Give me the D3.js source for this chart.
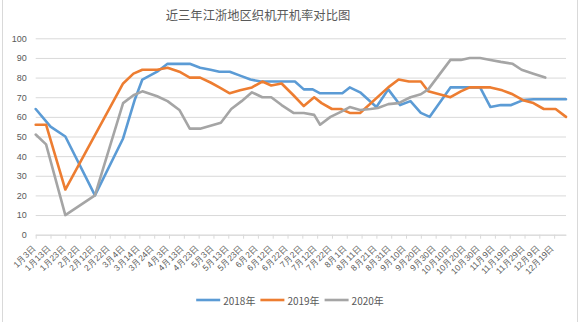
<!DOCTYPE html>
<html>
<head>
<meta charset="utf-8">
<script src="https://cdn.jsdelivr.net/npm/d3@7"></script>
<style>
  html, body { margin: 0; padding: 0; background: #fff; }
  svg { display: block; font-family: "Noto Sans CJK SC", "Noto Sans", sans-serif; }
</style>
</head>
<body>
<svg id="chart" width="587" height="322"></svg>
<script>
// Loom operating rate in Jiangsu/Zhejiang, three years compared (%)
const chartTitle = "近三年江浙地区织机开机率对比图";
const seriesNames = ["2018年", "2019年", "2020年"];
const seriesColors = ["#5B9BD5", "#ED7D31", "#A5A5A5"];

const dates2018 = ["01-03","01-13","01-23","02-12","03-03","03-11","03-16","03-26","04-02","04-17","04-24","05-01","05-07","05-14","05-21","05-28","06-04","06-27","07-03","07-09","07-14","07-29","08-03","08-10","08-21","08-29","09-06","09-13","09-20","09-26","10-10","10-30","11-06","11-13","11-20","11-28","12-05","12-27"];
const values2018 = [64,55,50,20,49,69,79,83,87,87,85,84,83,83,81,79,78,78,74,74,72,72,75,72.5,65,74,66,68,62,60,75,75,65,66,66,68.5,69,69];

const dates2019 = ["01-03","01-10","01-23","03-03","03-10","03-16","03-26","04-02","04-10","04-17","04-24","05-01","05-07","05-14","05-21","05-29","06-05","06-11","06-18","06-26","07-03","07-10","07-15","07-22","07-28","08-03","08-10","08-29","09-05","09-12","09-20","09-25","10-10","10-17","10-23","11-06","11-14","11-21","11-28","12-05","12-12","12-20","12-27"];
const values2019 = [56,56,23,77,82,84,84,85,83,80,80,77.5,75,72,73.5,75,78,76,77,71,65.5,70,67,64,64,62,62,75,79,78,78,73,70,73,75,75,73.5,71.5,68.5,67,64,64,60];

const dates2020 = ["01-03","01-10","01-23","02-12","03-03","03-10","03-16","03-26","04-02","04-10","04-17","04-24","05-01","05-08","05-15","05-22","05-29","06-05","06-11","06-18","06-26","07-03","07-10","07-14","07-21","07-28","08-03","08-10","08-17","08-22","08-29","09-05","09-13","09-20","09-25","10-10","10-17","10-23","10-30","11-06","11-13","11-21","11-27","12-05","12-13"];
const values2020 = [51,46,10,20,67,71,73,70.5,68,63.5,54,54,55.5,57,64,68,72.5,70,70,66,62,62,61,56,60,62.5,65,63.5,64,64.5,66.5,67,70,71.5,74,89,89,90,90,89,88,87,84,82,80];

const xTickLabels = ["1月3日","1月13日","1月23日","2月2日","2月12日","2月22日","3月4日","3月14日","3月24日","4月3日","4月13日","4月23日","5月3日","5月13日","5月23日","6月2日","6月12日","6月22日","7月2日","7月12日","7月22日","8月1日","8月11日","8月21日","8月31日","9月10日","9月20日","9月30日","10月10日","10月20日","10月30日","11月9日","11月19日","11月29日","12月9日","12月19日"];
const yTickValues = [0,10,20,30,40,50,60,70,80,90,100];
const axisStart = "01-03";
const axisEnd = "12-27";

// All three years share one calendar axis (a common non-leap reference year)
const refYear = 2018;
function parseMD(s) {
  const [m, d] = s.split("-").map(Number);
  return new Date(refYear, m - 1, d);
}
function parseLabel(s) {
  const m = s.match(/(\d+)月(\d+)日/);
  return new Date(refYear, +m[1] - 1, +m[2]);
}

const series = [
  { name: seriesNames[0], color: seriesColors[0], points: dates2018.map((d, i) => ({ date: parseMD(d), value: values2018[i] })) },
  { name: seriesNames[1], color: seriesColors[1], points: dates2019.map((d, i) => ({ date: parseMD(d), value: values2019[i] })) },
  { name: seriesNames[2], color: seriesColors[2], points: dates2020.map((d, i) => ({ date: parseMD(d), value: values2020[i] })) }
];

const svg = d3.select("#chart");
const W = 587, H = 322;
const plot = { left: 35.7, right: 566, top: 38.3, bottom: 234.7 };
const textColor = "#595959";
const gridColor = "#D9D9D9";

// chart frame edges
svg.append("line").attr("x1", 2.5).attr("x2", 2.5).attr("y1", 0).attr("y2", H)
  .attr("stroke", gridColor).attr("stroke-width", 1);
svg.append("line").attr("x1", 577.5).attr("x2", 577.5).attr("y1", 0).attr("y2", H)
  .attr("stroke", gridColor).attr("stroke-width", 1);

const x = d3.scaleTime()
  .domain([parseMD(axisStart), parseMD(axisEnd)])
  .range([plot.left, plot.right]);
const y = d3.scaleLinear()
  .domain([0, 100])
  .range([plot.bottom, plot.top]);

// title
svg.append("text")
  .attr("x", 258).attr("y", 15)
  .attr("text-anchor", "middle").attr("dominant-baseline", "central")
  .attr("fill", textColor).style("font-size", "12.3px")
  .text(chartTitle);

// horizontal gridlines + value labels
const yAxis = svg.append("g")
  .attr("transform", `translate(${plot.left},0)`)
  .call(d3.axisLeft(y).tickValues(yTickValues).tickSize(-(plot.right - plot.left)).tickPadding(9));
yAxis.select(".domain").remove();
yAxis.selectAll(".tick line").attr("stroke", gridColor).attr("stroke-width", 1);
yAxis.selectAll(".tick text").attr("fill", textColor)
  .style("font-size", "9px").style("font-family", "'Liberation Sans', Arial, sans-serif");

// date axis
const tickDates = xTickLabels.map(parseLabel);
const xAxis = svg.append("g")
  .attr("transform", `translate(0,${plot.bottom})`)
  .call(d3.axisBottom(x).tickValues(tickDates).tickFormat((d, i) => xTickLabels[i]).tickSize(4).tickSizeOuter(0));
xAxis.select(".domain").attr("stroke", gridColor);
xAxis.selectAll(".tick line").attr("stroke", gridColor);
xAxis.selectAll(".tick text")
  .attr("x", 0).attr("y", 0).attr("dy", "0.35em")
  .attr("transform", "translate(-2,12) rotate(-45)")
  .style("text-anchor", "end")
  .style("font-size", "8.5px")
  .attr("fill", textColor);

// series lines
const line = d3.line()
  .x(d => x(d.date))
  .y(d => y(d.value));

svg.append("g").selectAll("path")
  .data(series)
  .join("path")
  .attr("d", d => line(d.points))
  .attr("fill", "none")
  .attr("stroke", d => d.color)
  .attr("stroke-width", 2.6)
  .attr("stroke-linejoin", "round")
  .attr("stroke-linecap", "round");

// legend, centred under the plot
const legend = svg.append("g");
const items = legend.selectAll("g").data(series).join("g");
items.append("line")
  .attr("x1", 0).attr("x2", 24).attr("y1", 0).attr("y2", 0)
  .attr("stroke", d => d.color).attr("stroke-width", 2.6);
items.append("text")
  .attr("x", 27).attr("y", 0).attr("dominant-baseline", "central")
  .attr("fill", textColor).style("font-size", "10px")
  .text(d => d.name);
let cursor = 0;
items.each(function () {
  const g = d3.select(this);
  g.attr("transform", `translate(${cursor},0)`);
  cursor += 27 + g.select("text").node().getComputedTextLength() + 5;
});
const legendWidth = cursor - 5;
legend.attr("transform", `translate(${290 - legendWidth / 2},300)`);
</script>
</body>
</html>
